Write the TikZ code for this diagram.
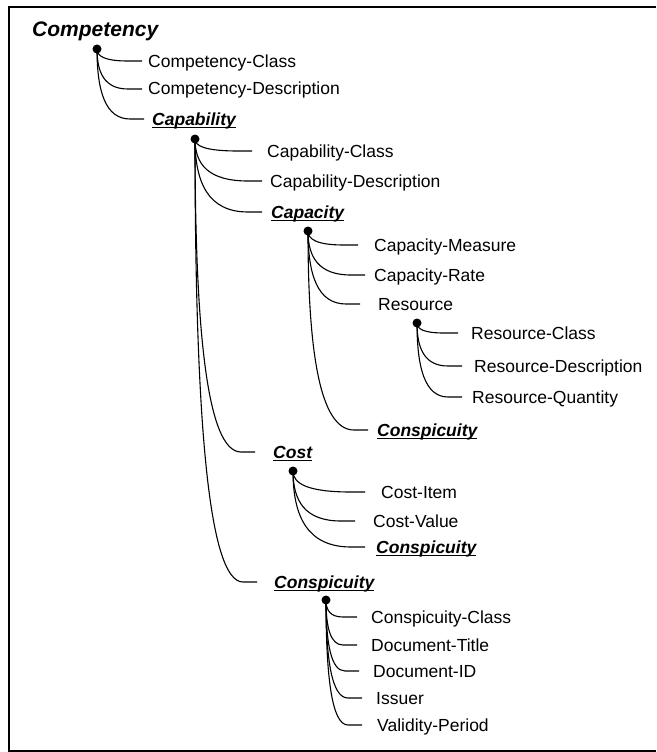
\documentclass[tikz,border=0pt]{standalone}
\usepackage{fontspec}
\setmainfont{Liberation Sans}
\usetikzlibrary{calc}
\newcommand\ulbox[1]{\setbox0\hbox{#1}\rlap{\rule[-3.2pt]{\wd0}{1.4pt}}\box0}
\tikzset{
 lbl/.style={anchor=west, inner sep=0pt, text height=12pt, text depth=0pt, font=\fontsize{17.5}{20}\selectfont},
 keylbl/.style={lbl, font=\fontsize{17.5}{20}\selectfont\bfseries\itshape},
 bullet/.style={circle, fill=black, inner sep=0pt, minimum size=9pt},
 conn/.style={line width=1.1pt},
}
\newcommand\branch[3]{\draw[conn] let \p1=(#1.center), \p2=([xshift=-#3]#2.west) in (\p1) .. controls (\x1,{\y1+0.6*(\y2-\y1)}) and ({\x1+0.25*(\x2-14pt-\x1)},\y2) .. ({\x2-14pt},\y2) -- (\p2);}
\begin{document}
\begin{tikzpicture}[x=1pt,y=-1pt]
\useasboundingbox (0,0) rectangle (656,752);
\draw[line width=2pt] (656,7) -- (9,7) -- (9,750.5) -- (656,750.5);
\node[anchor=base west, inner sep=0pt, font=\fontsize{21}{24}\selectfont\bfseries\itshape] (comp) at (32,37) {Competency};
% level dots
\node[bullet] (dcomp) at (97,49) {};
\node[bullet] (dcap) at (195,139) {};
\node[bullet] (dcapa) at (308,231) {};
\node[bullet] (dres) at (417,323) {};
\node[bullet] (dcost) at (293,471) {};
\node[bullet] (dcons) at (326,600) {};
% labels
\node[lbl] (compclass) at (148,61) {Competency-Class};
\node[lbl] (compdesc) at (148,89) {Competency-Description};
\node[keylbl] (capab) at (152,119) {\ulbox{Capability}};
\node[lbl] (capclass) at (267,151) {Capability-Class};
\node[lbl] (capdesc) at (270,181) {Capability-Description};
\node[keylbl] (capacity) at (271,212) {\ulbox{Capacity}};
\node[lbl] (capmeas) at (374,245) {Capacity-Measure};
\node[lbl] (caprate) at (374,275) {Capacity-Rate};
\node[lbl] (resource) at (378,304) {Resource};
\node[lbl] (resclass) at (471,333) {Resource-Class};
\node[lbl] (resdesc) at (474,366) {Resource-Description};
\node[lbl] (resqty) at (472,397) {Resource-Quantity};
\node[keylbl] (consA) at (377,430) {\ulbox{Conspicuity}};
\node[keylbl] (cost) at (273,452) {\ulbox{Cost}};
\node[lbl] (costitem) at (381,492) {Cost-Item};
\node[lbl] (costval) at (373,521) {Cost-Value};
\node[keylbl] (consB) at (376,547) {\ulbox{Conspicuity}};
\node[keylbl] (consC) at (274,582) {\ulbox{Conspicuity}};
\node[lbl] (consclass) at (371,617) {Conspicuity-Class};
\node[lbl] (doctitle) at (371,645) {Document-Title};
\node[lbl] (docid) at (373,671) {Document-ID};
\node[lbl] (issuer) at (376,698) {Issuer};
\node[lbl] (validity) at (377,725) {Validity-Period};
% connectors
\branch{dcomp}{compclass}{6pt}
\branch{dcomp}{compdesc}{6pt}
\branch{dcomp}{capab}{8pt}
\branch{dcap}{capclass}{15pt}
\branch{dcap}{capdesc}{8pt}
\branch{dcap}{capacity}{9pt}
\branch{dcapa}{capmeas}{16pt}
\branch{dcapa}{caprate}{9pt}
\branch{dcapa}{resource}{18pt}
\branch{dres}{resclass}{13pt}
\branch{dres}{resdesc}{12pt}
\branch{dres}{resqty}{10pt}
\branch{dcapa}{consA}{9pt}
\branch{dcap}{cost}{18pt}
\branch{dcost}{costitem}{16pt}
\branch{dcost}{costval}{18pt}
\branch{dcost}{consB}{11pt}
\branch{dcap}{consC}{17pt}
\branch{dcons}{consclass}{14pt}
\branch{dcons}{doctitle}{14pt}
\branch{dcons}{docid}{14pt}
\branch{dcons}{issuer}{14pt}
\branch{dcons}{validity}{15pt}
\end{tikzpicture}
\end{document}
